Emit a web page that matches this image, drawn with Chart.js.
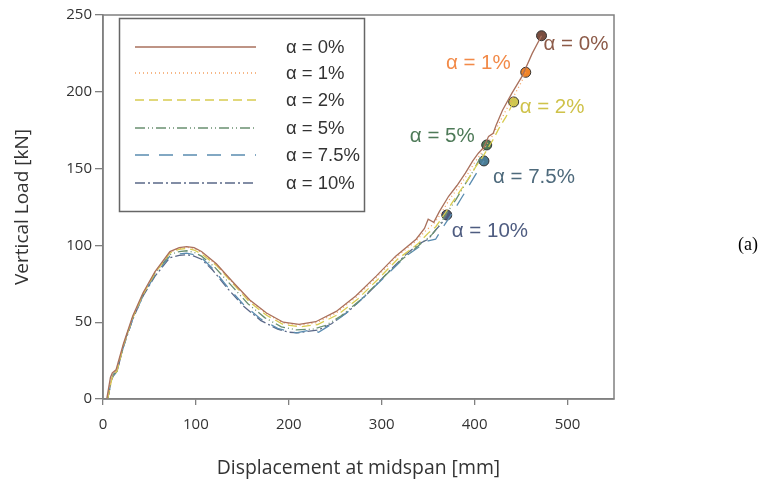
<!DOCTYPE html>
<html><head><meta charset="utf-8">
<script src="https://cdn.jsdelivr.net/npm/chart.js@4.4.1/dist/chart.umd.min.js"></script>
<style>html,body{margin:0;padding:0;background:#fff}#wrap{width:776px;height:484px;position:relative}</style>
</head><body><div id="wrap"><canvas id="c" width="776" height="484"></canvas></div>
<script>
const seriesNames = ["α = 0%", "α = 1%", "α = 2%", "α = 5%", "α = 7.5%", "α = 10%"];
const disp0 = [4,8,10,14,22,32,43,56,72,82,90,98,106,122,140,158,176,194,211,229,251,272,294,315,337,346,350,356,362,372,381,390,398,404,410,415,420,423,430,440,451,462,472];
const load0 = [0,14,17,19,36,54,69,83,96,98.5,99.2,98.5,96,88,76,64.5,56,50,48.6,50.3,57,67,80,93,104,111,117,115,122,132,139,147,155,160,164,171,173,178,188,199,210,225,236.5];
const disp1 = [5,9,11,15,22,32,43,56,72,82,90,98,106,122,140,158,176,194,211,229,251,272,294,315,337,348,356,364,374,383,392,400,406,412,418,424,432,442,450,455];
const load1 = [0,13,16,19,35,53,68,82.5,95.5,98,98.8,98,95.5,87.5,75.5,64,55.5,49.5,48,49.5,56,66,79,92,103,110,114,121,131,138,146,154,159,165,170,177,186,197,206,212.7];
const disp2 = [5,9,11,15,22,32,43,56,72,82,90,98,106,122,140,158,176,194,213,231,253,274,296,317,339,350,358,366,376,385,394,402,408,414,420,426,434,442];
const load2 = [0,12,16,18,35,53,68,82,95,97.5,98,97,94.5,87,75,63,54.5,48.5,47,48.5,55,65,78,91,101,108,112,119,128,136,144,152,157,163,169,176,184,193.4];
const disp3 = [5,9,11,15,22,32,43,56,72,82,90,98,106,120,138,156,174,192,208,226,240,256,276,298,320,342,354,362,370,380,390,398,406,413];
const load3 = [0,12,16,18,35,53,68,82,94,96,96.5,95.5,93,86,74,62,53,47,45,45.5,48,54,64,77,90,101,107,113,121,130,140,148,157,165.4];
const disp4 = [5,9,11,15,22,32,43,56,72,82,90,98,106,118,134,152,170,188,200,208,216,224,232,244,262,282,304,326,340,350,358,366,376,386,396,404,410];
const load4 = [0,12,15,18,34,52,67,81,93,94.5,95,94,92,85,73,61,52,46,44,43,44,45,43.5,48,56,67,80,93,99,103,104,112,121,131,141,149,155];
const disp5 = [5,9,11,15,22,32,43,56,72,82,90,98,106,118,134,152,170,188,200,210,220,232,246,264,284,306,326,340,350,358,364,370];
const load5 = [0,12,15,18,34,52,67,80,92,93.5,94,93,91,84,72,60,51,45.5,43.5,43,44,45,49,57,68,82,94,101,104,110,114,119.8];
const xTicks = [0,100,200,300,400,500];
const yTicks = [0,50,100,150,200,250];

const dispAll = [disp0,disp1,disp2,disp3,disp4,disp5];
const loadAll = [load0,load1,load2,load3,load4,load5];
const lineColors = ["#a9705c","#f4a060","#d8cc50","#6a9070","#5a8cb0","#5a6888"];
const dashes = [[],[1,3],[9,5],[10,3,1,3,1,3],[14,10],[10,3,2,3]];
const markerColors = ["#7a4e40","#f08428","#cfc650","#4e7a56","#4a7c94","#4e5a7a"];
const labelColors = ["#8c5a48","#f28a48","#cfc24a","#4e7a58","#4e6a7c","#4e5c80"];
const labelOffsets = [[2,9,"left"],[-15,-9,"right"],[6,5,"left"],[-12,-9,"right"],[9,16,"left"],[5,16,"left"]];

const datasets = dispAll.map((d,i)=>({
  type:'line', label:seriesNames[i],
  data:d.map((x,j)=>({x:x,y:loadAll[i][j]})),
  borderColor:lineColors[i], borderWidth:1.3, borderDash:dashes[i],
  pointRadius:0, tension:0, fill:false
}));
datasets.push({
  type:'scatter', label:'ends',
  data:dispAll.map((d,i)=>({x:d[d.length-1], y:loadAll[i][loadAll[i].length-1]})),
  backgroundColor:markerColors, borderColor:"#333", borderWidth:1, pointRadius:5, pointHoverRadius:5
});

const extras = {
  id:'extras',
  afterDraw(chart){
    const ctx = chart.ctx, a = chart.chartArea;
    ctx.save();
    ctx.strokeStyle = "#808080"; ctx.lineWidth = 1.5;
    ctx.strokeRect(a.left, a.top, a.right-a.left, a.bottom-a.top);
    // legend box
    ctx.strokeStyle = "#666"; ctx.lineWidth = 1.5;
    ctx.strokeRect(119.5, 18.5, 245, 193);
    const rowY = [47,73,100,128,155,183];
    for (let i=0;i<6;i++){
      ctx.beginPath();
      ctx.strokeStyle = lineColors[i]; ctx.lineWidth = 1.3; ctx.setLineDash(dashes[i]);
      ctx.moveTo(135, rowY[i]); ctx.lineTo(256, rowY[i]); ctx.stroke();
      ctx.setLineDash([]);
      ctx.fillStyle = "#333"; ctx.font = "18.5px 'Liberation Sans'";
      ctx.textAlign = "left"; ctx.textBaseline = "middle";
      ctx.fillText(seriesNames[i], 286, rowY[i]+1);
    }
    // end labels
    const meta = chart.getDatasetMeta(6);
    ctx.font = "20.5px 'Liberation Sans'"; ctx.textBaseline = "middle";
    meta.data.forEach((p,i)=>{
      const o = labelOffsets[i];
      ctx.fillStyle = labelColors[i]; ctx.textAlign = o[2];
      ctx.fillText(seriesNames[i], p.x+o[0], p.y+o[1]);
    });
    ctx.fillStyle = "#000"; ctx.font = "18px 'Liberation Serif'"; ctx.textAlign = "left";
    ctx.fillText("(a)", 738, 245);
    ctx.restore();
  }
};

new Chart(document.getElementById('c'), {
  data:{datasets},
  options:{
    responsive:false, animation:false, events:[],
    layout:{padding:{left:8, top:15, right:162, bottom:0}},
    plugins:{legend:{display:false}, tooltip:{enabled:false}},
    scales:{
      x:{type:'linear', min:0, max:550,
        afterBuildTicks(s){ s.ticks = xTicks.map(v=>({value:v})); },
        afterFit(s){ s.height = 85; },
        grid:{drawOnChartArea:false, tickLength:6, color:"#808080", lineWidth:1.3},
        border:{color:"#808080", width:1.5},
        ticks:{color:"#333", font:{family:"'Open Sans'", size:15}, padding:11},
        title:{display:true, text:"Displacement at midspan [mm]", color:"#333", font:{family:"'Open Sans'", size:19.4}, padding:{top:12}}
      },
      y:{type:'linear', min:0, max:250,
        afterBuildTicks(s){ s.ticks = yTicks.map(v=>({value:v})); },
        afterFit(s){ s.width = 95; },
        grid:{drawOnChartArea:false, tickLength:8, color:"#808080", lineWidth:1.3},
        border:{color:"#808080", width:1.5},
        ticks:{color:"#333", font:{family:"'Open Sans'", size:15}, padding:3},
        title:{display:true, text:"Vertical Load [kN]", color:"#333", font:{family:"'Open Sans'", size:19}, padding:{top:3, bottom:6}}
      }
    }
  },
  plugins:[extras]
});
</script></body></html>
